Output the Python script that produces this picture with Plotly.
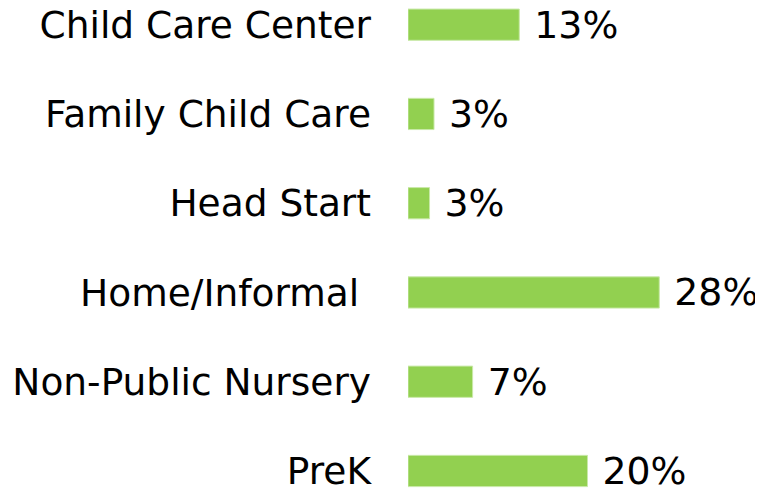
import plotly.graph_objects as go

categories = ["Child Care Center", "Family Child Care", "Head Start",
              "Home/Informal", "Non-Public Nursery", "PreK"]
tick_labels = ["Child Care Center", "Family Child Care", "Head Start",
               "Home/Informal\u00a0", "Non-Public Nursery", "PreK"]
values = [12.4, 2.9, 2.4, 28.0, 7.2, 20.0]
value_labels = ["13%", "3%", "3%", "28%", "7%", "20%"]

FONT = "DejaVu Sans, Verdana, sans-serif"

fig = go.Figure(go.Bar(
    x=values,
    y=categories,
    orientation="h",
    marker=dict(color="#92D050", line=dict(color="#C9E9A8", width=1)),
    text=["\u00a0" + t for t in value_labels],
    textposition="outside",
    constraintext="none",
    cliponaxis=False,
    textfont=dict(family=FONT, size=37.8, color="#000000"),
))

fig.update_layout(
    width=755, height=482,
    margin=dict(l=400, r=5, t=0, b=0, autoexpand=False),
    paper_bgcolor="white", plot_bgcolor="white",
    bargap=0.65,
    showlegend=False,
    font=dict(family=FONT, size=37.5, color="#000000"),
    xaxis=dict(range=[0, 39], visible=False, showgrid=False, zeroline=False),
    yaxis=dict(
        categoryorder="array", categoryarray=categories,
        tickmode="array", tickvals=categories, ticktext=tick_labels,
        range=[5.213, -0.187],
        showgrid=False, zeroline=False, showline=False,
        ticks="", ticklabelstandoff=36,
        tickfont=dict(family=FONT, size=37.5, color="#000000"),
    ),
)

fig.write_html("out.html")
